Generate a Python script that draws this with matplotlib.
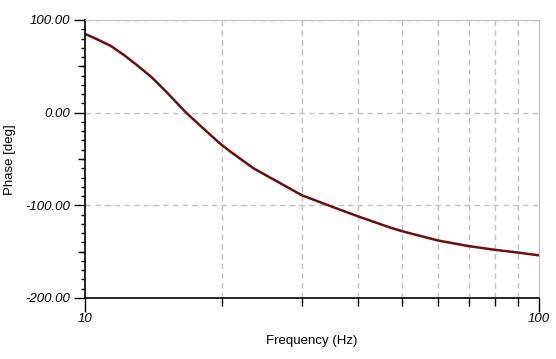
import matplotlib.pyplot as plt
from matplotlib.ticker import FixedLocator, NullFormatter

# phase response
freq = [10, 10.6, 11.4, 12.2, 13, 14, 15, 16.7, 18.5, 19.8, 20.9, 23.5, 26, 30, 35, 40, 47, 50,
        60, 70, 80, 90, 100]
phase = [85, 79.5, 72, 62, 51.5, 38.5, 24, 0, -20, -33, -42, -60, -72, -89, -101.5, -112,
         -124, -128, -138, -144, -148, -151, -154]

x_major = [10, 100]
x_minor = [20, 30, 40, 50, 60, 70, 80, 90]
y_major = [-200, -100, 0, 100]
y_mid = [-150, -50, 50]

plt.rcParams['font.family'] = ['Liberation Sans', 'DejaVu Sans']

fig = plt.figure(figsize=(5.56, 3.59), dpi=100)
ax = fig.add_axes([85/556, 1 - 298/359, 454/556, 278/359])

ax.plot(freq, phase, color='#6a0e0e', lw=1.8, solid_joinstyle='round')

ax.set_xscale('log')
ax.set_xlim(10, 100)
ax.set_ylim(-200, 100)

ax.xaxis.set_major_locator(FixedLocator(x_major))
ax.xaxis.set_minor_locator(FixedLocator(x_minor))
ax.set_xticklabels(['10', '100'], fontstyle='italic', fontsize=9.5)
ax.xaxis.set_minor_formatter(NullFormatter())
ax.tick_params(axis='x', which='major', length=10, width=1, direction='out', pad=1)
ax.tick_params(axis='x', which='minor', length=6, width=1, direction='out')

ax.yaxis.set_major_locator(FixedLocator(y_major))
ax.yaxis.set_minor_locator(FixedLocator([v for v in range(-200, 101, 10)]))
ax.set_yticklabels(['%.2f' % v for v in y_major], fontstyle='italic', fontsize=9.5)
ax.tick_params(axis='y', which='major', length=8, width=1, pad=3)
ax.tick_params(axis='y', which='minor', length=3, width=1)

sec = ax.secondary_yaxis('left')
sec.set_yticks(y_mid)
sec.set_yticklabels([])
sec.tick_params(length=5, width=1)
sec.spines['left'].set_visible(False)

ax.grid(True, which='minor', axis='x', color='#c0c0c0', ls=(0, (4, 3)), lw=1)
ax.grid(True, which='major', axis='y', color='#c0c0c0', ls=(0, (4, 3)), lw=1)

ax.spines['top'].set_color('#c0c0c0')
ax.spines['right'].set_color('#c0c0c0')
ax.spines['left'].set_color('black')
ax.spines['bottom'].set_color('black')
ax.spines['left'].set_linewidth(1.2)
ax.spines['bottom'].set_linewidth(1.2)

ax.set_xlabel('Frequency (Hz)', fontsize=9.5, labelpad=7)
fig.text(10/556, 1 - 160/359, 'Phase [deg]', rotation=90, fontsize=9.5,
         ha='center', va='center')

plt.savefig('out.png', dpi=100)
